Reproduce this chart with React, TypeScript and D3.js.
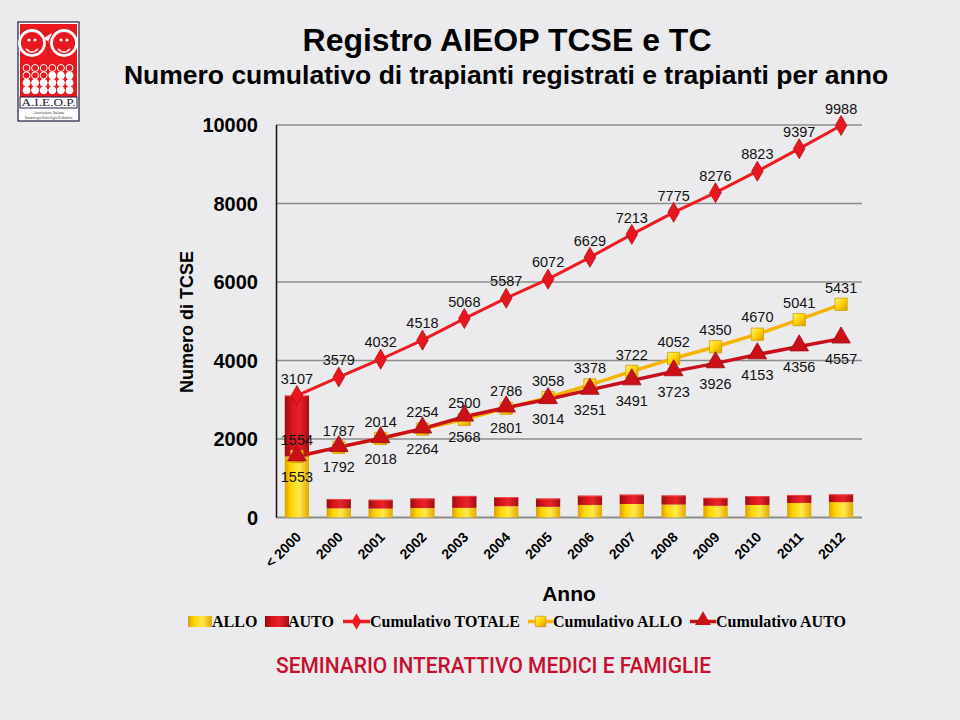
import React from "react";
import * as d3 from "d3";

const categories = ["< 2000", "2000", "2001", "2002", "2003", "2004", "2005", "2006", "2007", "2008", "2009", "2010", "2011", "2012"];
const annualAllo = [1554, 233, 227, 240, 246, 286, 272, 320, 344, 330, 298, 320, 371, 390];
const annualAuto = [1553, 239, 226, 246, 304, 233, 213, 237, 240, 232, 203, 227, 203, 201];
const cumTotale = [3107, 3579, 4032, 4518, 5068, 5587, 6072, 6629, 7213, 7775, 8276, 8823, 9397, 9988];
const cumAllo = [1554, 1787, 2014, 2254, 2500, 2786, 3058, 3378, 3722, 4052, 4350, 4670, 5041, 5431];
const cumAuto = [1553, 1792, 2018, 2264, 2568, 2801, 3014, 3251, 3491, 3723, 3926, 4153, 4356, 4557];
const yTicks = [0, 2000, 4000, 6000, 8000, 10000];

const legendItems = [
  { label: "ALLO", kind: "bar", color: "url(#gYellow)", x: 188, tx: 212 },
  { label: "AUTO", kind: "bar", color: "url(#gRed)", x: 265, tx: 288 },
  { label: "Cumulativo TOTALE", kind: "diamond", color: "#ee1c22", x: 343, tx: 370 },
  { label: "Cumulativo ALLO", kind: "square", color: "#f5b400", x: 528, tx: 553 },
  { label: "Cumulativo AUTO", kind: "triangle", color: "#c8101a", x: 690, tx: 716 },
];

const BG = "#ebebed";

export default function App() {
  const x = d3.scaleBand<string>().domain(categories).range([276, 862]).paddingInner(0.42).paddingOuter(0.21);
  const y = d3.scaleLinear().domain([0, 10000]).range([517.5, 125]);
  const cx = (i: number) => (x(categories[i]) as number) + x.bandwidth() / 2;

  const line = d3.line<number>().x((_, i) => cx(i)).y((d) => y(d));
  const diamond = d3.symbol().type(d3.symbolDiamond).size(115)()!;
  const square = d3.symbol().type(d3.symbolSquare).size(150)()!;
  const triangle = d3.symbol().type(d3.symbolTriangle).size(150)()!;
  const diamondS = d3.symbol().type(d3.symbolDiamond).size(80)()!;
  const squareS = d3.symbol().type(d3.symbolSquare).size(110)()!;
  const triangleS = d3.symbol().type(d3.symbolTriangle).size(110)()!;

  const stacked = categories.map((c, i) => ({
    c,
    allo: [0, annualAllo[i]],
    auto: [annualAllo[i], annualAllo[i] + annualAuto[i]],
  }));

  const bw = x.bandwidth();
  const labelFont = "'Liberation Sans', Arial, sans-serif";

  const gridCircles: { cx: number; cy: number; fill: string }[] = [];
  for (let r = 0; r < 4; r++) {
    for (let c = 0; c < 6; c++) {
      const white = r >= 2 ? true : r === 1 && c >= 3;
      gridCircles.push({ cx: 26.5 + c * 8.6, cy: 68 + r * 7.4, fill: white ? "#ffffff" : "#e8181e" });
    }
  }

  return (
    <div style={{ position: "absolute", left: 0, top: 0, width: 960, height: 720, background: BG }}>
      <svg width={960} height={720} viewBox="0 0 960 720" style={{ display: "block" }}>
        <defs>
          <linearGradient id="gYellow" x1="0" x2="1" y1="0" y2="0">
            <stop offset="0" stopColor="#d9a000" />
            <stop offset="0.25" stopColor="#ffd400" />
            <stop offset="0.6" stopColor="#ffe84a" />
            <stop offset="1" stopColor="#e0a800" />
          </linearGradient>
          <linearGradient id="gRed" x1="0" x2="1" y1="0" y2="0">
            <stop offset="0" stopColor="#9c0a10" />
            <stop offset="0.3" stopColor="#d8151c" />
            <stop offset="0.6" stopColor="#e8242a" />
            <stop offset="1" stopColor="#a50c12" />
          </linearGradient>
          <linearGradient id="gSquare" x1="0" x2="1" y1="0" y2="1">
            <stop offset="0" stopColor="#fff27a" />
            <stop offset="0.5" stopColor="#ffd200" />
            <stop offset="1" stopColor="#d89a00" />
          </linearGradient>
        </defs>
        <rect x={0} y={0} width={960} height={720} fill={BG} />

        {/* Logo */}
        <g>
          <rect x={18} y={22} width={61} height={99} fill="#ffffff" stroke="#1c1c3c" strokeWidth={1.2} />
          <rect x={20} y={24} width={57} height={74} fill="#e8181e" />
          <circle cx={32} cy={43} r={12.5} fill="#e8181e" stroke="#ffffff" strokeWidth={2.8} />
          <circle cx={64} cy={43} r={12.5} fill="#e8181e" stroke="#ffffff" strokeWidth={2.8} />
          <path d="M26,49 Q32,55 38,49" fill="none" stroke="#ffffff" strokeWidth={1.6} />
          <path d="M58,49 Q64,55 70,49" fill="none" stroke="#ffffff" strokeWidth={1.6} />
          <circle cx={29} cy={40} r={1.6} fill="#ffffff" />
          <circle cx={35} cy={40} r={1.6} fill="#ffffff" />
          <circle cx={61} cy={40} r={1.6} fill="#ffffff" />
          <circle cx={67} cy={40} r={1.6} fill="#ffffff" />
          <path d="M44,38 L52,33 L48,42 L53,46 Z" fill="#ffffff" />
          {gridCircles.map((g, i) => (
            <circle key={i} cx={g.cx} cy={g.cy} r={3.5} fill={g.fill} stroke="#ffffff" strokeWidth={1} />
          ))}
          <rect x={20} y={97} width={57} height={11} fill="#ffffff" stroke="#1c1c3c" strokeWidth={1} />
          <text x={48.5} y={106} textAnchor="middle" fontFamily="'Liberation Serif', serif" fontSize={10} fill="#1c1c3c" textLength={54} lengthAdjust="spacingAndGlyphs">A.I.E.O.P.</text>
          <text x={48.5} y={114} textAnchor="middle" fontFamily="'Liberation Serif', serif" fontSize={3.6} fill="#333">Associazione Italiana</text>
          <text x={48.5} y={118.5} textAnchor="middle" fontFamily="'Liberation Serif', serif" fontSize={3.6} fill="#333">Ematologia Oncologia Pediatrica</text>
        </g>

        {/* Titles */}
        <text x={507} y={51} textAnchor="middle" fontFamily={labelFont} fontWeight="bold" fontSize={32} fill="#000">Registro AIEOP TCSE e TC</text>
        <text x={506} y={84} textAnchor="middle" fontFamily={labelFont} fontWeight="bold" fontSize={26.5} fill="#000">Numero cumulativo di trapianti registrati e trapianti per anno</text>

        {/* Grid */}
        {yTicks.filter((t) => t > 0).map((t) => (
          <line key={t} x1={276} x2={862} y1={y(t)} y2={y(t)} stroke="#8c8c8c" strokeWidth={1.6} />
        ))}
        <line x1={276} x2={862} y1={y(0)} y2={y(0)} stroke="#8c8c8c" strokeWidth={1.8} />
        <line x1={276.5} x2={276.5} y1={y(10000)} y2={y(0)} stroke="#111" strokeWidth={1.5} />

        {/* Y ticks */}
        {yTicks.map((t) => (
          <text key={t} x={258} y={y(t)} dy="0.36em" textAnchor="end" fontFamily={labelFont} fontWeight="bold" fontSize={20} fill="#000">{t}</text>
        ))}
        <text transform={`translate(193,322) rotate(-90)`} textAnchor="middle" fontFamily={labelFont} fontWeight="bold" fontSize={18} fill="#000">Numero di TCSE</text>

        {/* Bars */}
        {stacked.map((s) => {
          const bx = x(s.c) as number;
          return (
            <g key={s.c}>
              <rect x={bx} y={y(s.allo[1])} width={bw} height={y(s.allo[0]) - y(s.allo[1])} fill="url(#gYellow)" />
              <rect x={bx} y={y(s.auto[1])} width={bw} height={y(s.auto[0]) - y(s.auto[1])} fill="url(#gRed)" />
              <line x1={bx} x2={bx + bw} y1={y(s.auto[1]) + 0.5} y2={y(s.auto[1]) + 0.5} stroke="#ff5a5a" strokeWidth={1} opacity={0.7} />
            </g>
          );
        })}

        {/* Lines */}
        <path d={line(cumAllo)!} fill="none" stroke="#f5b400" strokeWidth={3.5} />
        <path d={line(cumAuto)!} fill="none" stroke="#c8101a" strokeWidth={3.5} />
        <path d={line(cumTotale)!} fill="none" stroke="#ee1c22" strokeWidth={3} />

        {cumAllo.map((v, i) => (
          <path key={"sa" + i} d={square} transform={`translate(${cx(i)},${y(v)})`} fill="url(#gSquare)" stroke="#d49a00" strokeWidth={0.8} />
        ))}
        {cumAuto.map((v, i) => (
          <path key={"ta" + i} d={triangle} transform={`translate(${cx(i)},${y(v) - 1})`} fill="#cc1018" stroke="#a00810" strokeWidth={0.8} />
        ))}
        {cumTotale.map((v, i) => (
          <path key={"dt" + i} d={diamond} transform={`translate(${cx(i)},${y(v)})`} fill="#e8161e" stroke="#b80e14" strokeWidth={0.8} />
        ))}

        {/* Data labels */}
        <g fontFamily={labelFont} fontSize={14.5} fill="#111" textAnchor="middle">
          {cumTotale.map((v, i) => (
            <text key={"lt" + i} x={cx(i)} y={y(v) - 17} dy="0.36em">{v}</text>
          ))}
          {cumAllo.map((v, i) => (
            <text key={"la" + i} x={cx(i)} y={y(v) - 17} dy="0.36em">{v}</text>
          ))}
          {cumAuto.map((v, i) => (
            <text key={"lu" + i} x={cx(i)} y={y(v) + 20} dy="0.36em">{v}</text>
          ))}
        </g>

        {/* X labels */}
        {categories.map((c, i) => (
          <text key={c} transform={`translate(${cx(i) + 5},${538}) rotate(-45)`} textAnchor="end" fontFamily={labelFont} fontWeight="bold" fontSize={14} fill="#000">{c}</text>
        ))}
        <text x={569} y={601} textAnchor="middle" fontFamily={labelFont} fontWeight="bold" fontSize={21} fill="#000">Anno</text>

        {/* Legend */}
        {legendItems.map((l) => (
          <g key={l.label}>
            {l.kind === "bar" ? (
              <rect x={l.x} y={616} width={24} height={11} fill={l.color} />
            ) : (
              <g>
                <line x1={l.x} x2={l.tx} y1={621.5} y2={621.5} stroke={l.color} strokeWidth={3.5} />
                <path
                  d={l.kind === "diamond" ? diamondS : l.kind === "square" ? squareS : triangleS}
                  transform={`translate(${(l.x + l.tx) / 2},${l.kind === "triangle" ? 620.5 : 621.5})`}
                  fill={l.kind === "square" ? "url(#gSquare)" : l.color}
                  stroke={l.kind === "square" ? "#d49a00" : "none"}
                  strokeWidth={0.8}
                />
              </g>
            )}
            <text x={l.tx} y={627} fontFamily="'Liberation Serif', 'Times New Roman', serif" fontWeight="bold" fontSize={16} fill="#000">{l.label}</text>
          </g>
        ))}

        {/* Footer */}
        <text x={276} y={672.5} fontFamily="Roboto, 'Open Sans', sans-serif" fontWeight={500} fontSize={22} fill="#c8102e" textLength={435} lengthAdjust="spacingAndGlyphs">SEMINARIO INTERATTIVO MEDICI E FAMIGLIE</text>
      </svg>
    </div>
  );
}
